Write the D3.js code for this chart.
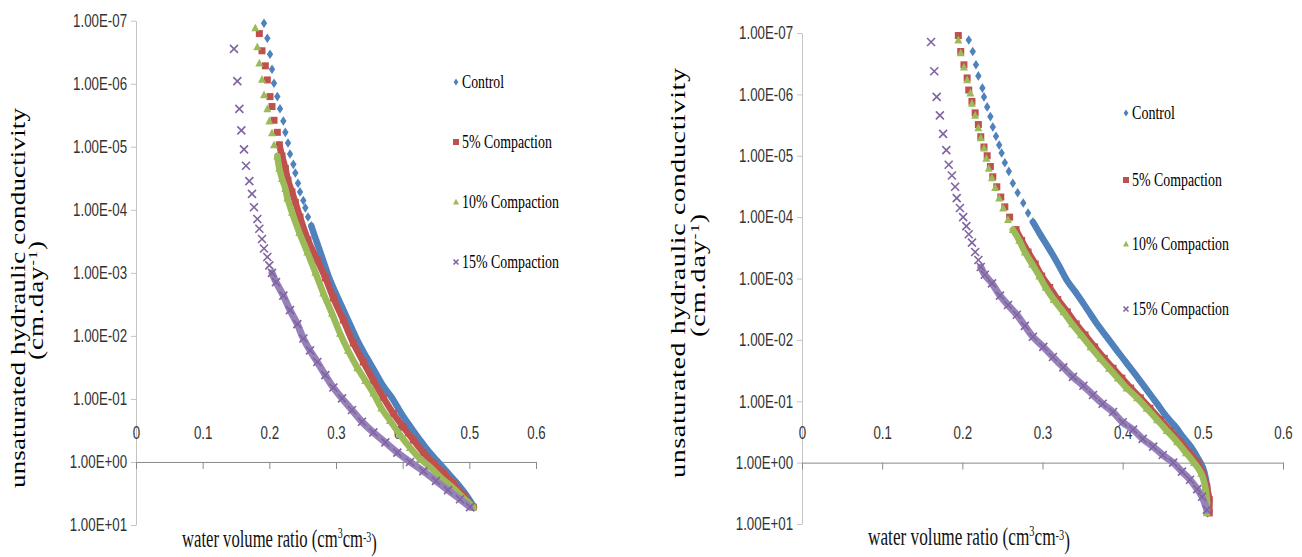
<!DOCTYPE html>
<html>
<head>
<meta charset="utf-8">
<script src="https://cdn.jsdelivr.net/npm/d3@7"></script>
<style>
  body { margin: 0; background: #fff; }
  svg { display: block; }
</style>
</head>
<body>
<svg id="chart" width="1302" height="557"></svg>
<script>
// ---- data (theta in cm3/cm3, K in cm/day) ----
const seriesNames = ["Control", "5% Compaction", "10% Compaction", "15% Compaction"];
const xTicks = [0, 0.1, 0.2, 0.3, 0.4, 0.5, 0.6];
const xTickLabels = ["0", "0.1", "0.2", "0.3", "0.4", "0.5", "0.6"];
const yTicks = [1e-7, 1e-6, 1e-5, 1e-4, 1e-3, 1e-2, 1e-1, 1e0, 1e1];
const yTickLabels = ["1.00E-07", "1.00E-06", "1.00E-05", "1.00E-04", "1.00E-03", "1.00E-02", "1.00E-01", "1.00E+00", "1.00E+01"];

// left chart: separate markers at the top, then the part where markers run together
const leftControlDots = [[0.192,1.1e-7],[0.197,1.9e-7],[0.201,3.4e-7],[0.204,5.9e-7],[0.207,9.8e-7],[0.212,1.6e-6],[0.216,2.5e-6],[0.221,3.9e-6],[0.224,5.9e-6],[0.228,8.7e-6],[0.231,1.3e-5],[0.236,1.9e-5],[0.239,2.6e-5],[0.243,3.8e-5],[0.246,5.2e-5],[0.251,7.1e-5],[0.254,9.3e-5],[0.258,1.3e-4],[0.263,1.8e-4]];
const leftControlTrace = [[0.270,3.0e-4],[0.279,5.6e-4],[0.291,1.3e-3],[0.308,3.3e-3],[0.323,7.3e-3],[0.334,1.3e-2],[0.346,2.2e-2],[0.359,3.8e-2],[0.372,6.5e-2],[0.385,0.10],[0.398,0.17],[0.412,0.28],[0.426,0.45],[0.440,0.70],[0.455,1.05],[0.468,1.5],[0.482,2.2],[0.495,3.3],[0.507,5.2]];
const left5Dots = [[0.185,1.6e-7],[0.189,3.0e-7],[0.194,5.2e-7],[0.197,8.7e-7],[0.201,1.6e-6],[0.204,2.3e-6],[0.207,3.8e-6],[0.212,5.9e-6],[0.215,9.3e-6]];
const left5Trace = [[0.219,1.4e-5],[0.224,2.2e-5],[0.228,3.4e-5],[0.234,5.2e-5],[0.239,7.6e-5],[0.246,1.3e-4],[0.258,3.0e-4],[0.272,6.3e-4],[0.284,1.2e-3],[0.296,2.5e-3],[0.311,5.6e-3],[0.326,1.3e-2],[0.341,2.6e-2],[0.356,5.1e-2],[0.371,9.5e-2],[0.386,0.17],[0.401,0.28],[0.416,0.45],[0.431,0.71],[0.446,1.05],[0.461,1.5],[0.476,2.2],[0.491,3.4],[0.506,5.2]];
const left10Dots = [[0.179,1.3e-7],[0.182,2.6e-7],[0.185,4.7e-7],[0.189,8.5e-7],[0.192,1.5e-6],[0.197,2.5e-6],[0.200,3.9e-6],[0.204,6.0e-6],[0.207,9.3e-6],[0.212,1.4e-5]];
const left10Trace = [[0.215,2.2e-5],[0.219,3.2e-5],[0.224,4.6e-5],[0.227,6.5e-5],[0.234,1.1e-4],[0.245,2.3e-4],[0.257,4.7e-4],[0.269,9.8e-4],[0.281,2.1e-3],[0.294,4.4e-3],[0.306,9.1e-3],[0.318,1.7e-2],[0.332,3.2e-2],[0.344,5.1e-2],[0.356,8.1e-2],[0.368,0.14],[0.381,0.22],[0.396,0.37],[0.411,0.59],[0.426,0.89],[0.441,1.2],[0.458,1.8],[0.476,2.6],[0.491,3.7],[0.506,5.2]];
const left15Dots = [[0.147,2.8e-7],[0.152,9.1e-7],[0.155,2.5e-6],[0.158,5.5e-6],[0.162,1.1e-5],[0.165,2.0e-5],[0.170,3.5e-5],[0.174,5.6e-5],[0.177,9.1e-5],[0.182,1.4e-4],[0.185,2.0e-4],[0.189,2.9e-4],[0.192,4.1e-4],[0.197,5.6e-4],[0.200,7.6e-4],[0.204,1.0e-3]];
const left15Trace = [[0.210,1.4e-3],[0.221,2.3e-3],[0.231,3.9e-3],[0.242,6.5e-3],[0.251,1.1e-2],[0.261,1.7e-2],[0.272,2.6e-2],[0.284,4.2e-2],[0.296,6.6e-2],[0.309,9.8e-2],[0.324,0.15],[0.339,0.23],[0.356,0.34],[0.374,0.49],[0.392,0.71],[0.411,1.0],[0.431,1.4],[0.450,2.0],[0.468,2.8],[0.486,3.9],[0.501,5.2]];

// right chart
const rightControlDots = [[0.208,1.3e-7],[0.213,2.0e-7],[0.217,3.3e-7],[0.220,5.0e-7],[0.225,7.9e-7],[0.227,1.1e-6],[0.231,1.6e-6],[0.235,2.3e-6],[0.238,3.4e-6],[0.242,4.8e-6],[0.246,6.7e-6],[0.249,9.0e-6],[0.253,1.3e-5],[0.258,1.8e-5],[0.263,2.8e-5],[0.269,4.0e-5],[0.276,5.9e-5],[0.282,8.6e-5],[0.288,1.2e-4]];
const rightControlTrace = [[0.297,1.9e-4],[0.309,3.4e-4],[0.320,6.0e-4],[0.331,1.1e-3],[0.343,1.8e-3],[0.356,3.2e-3],[0.368,5.5e-3],[0.380,8.9e-3],[0.393,1.5e-2],[0.405,2.4e-2],[0.418,4.0e-2],[0.430,6.5e-2],[0.443,0.11],[0.455,0.18],[0.467,0.27],[0.475,0.38],[0.485,0.55],[0.493,0.81],[0.500,1.2],[0.504,1.9],[0.506,3.3],[0.506,6.6]];
const right5Dots = [[0.195,1.1e-7],[0.198,2.0e-7],[0.202,3.3e-7],[0.206,5.4e-7],[0.208,8.5e-7],[0.212,1.3e-6],[0.216,2.0e-6],[0.220,3.1e-6],[0.223,4.9e-6],[0.227,7.2e-6],[0.231,1.0e-5],[0.235,1.5e-5],[0.238,2.2e-5],[0.243,3.2e-5],[0.248,4.7e-5],[0.253,6.8e-5],[0.259,1.0e-4],[0.267,1.6e-4]];
const right5Trace = [[0.274,2.4e-4],[0.282,3.7e-4],[0.291,5.8e-4],[0.299,9.1e-4],[0.309,1.4e-3],[0.319,2.2e-3],[0.331,3.5e-3],[0.342,5.5e-3],[0.353,8.3e-3],[0.365,1.3e-2],[0.377,2.0e-2],[0.388,2.9e-2],[0.399,4.2e-2],[0.410,6.1e-2],[0.422,8.8e-2],[0.434,0.13],[0.447,0.20],[0.459,0.30],[0.472,0.46],[0.483,0.69],[0.493,1.0],[0.500,1.5],[0.505,2.5],[0.508,4.0],[0.508,6.6]];
const right10Dots = [[0.195,1.3e-7],[0.198,2.1e-7],[0.202,3.6e-7],[0.206,5.8e-7],[0.210,9.5e-7],[0.212,1.4e-6],[0.216,2.2e-6],[0.220,3.5e-6],[0.223,5.1e-6],[0.227,7.5e-6],[0.230,1.1e-5],[0.233,1.6e-5],[0.237,2.3e-5],[0.241,3.3e-5],[0.246,4.9e-5],[0.251,7.1e-5],[0.257,1.1e-4],[0.263,1.6e-4]];
const right10Trace = [[0.271,2.4e-4],[0.278,3.7e-4],[0.287,5.8e-4],[0.296,9.1e-4],[0.304,1.4e-3],[0.314,2.2e-3],[0.326,3.5e-3],[0.337,5.5e-3],[0.348,8.3e-3],[0.360,1.3e-2],[0.372,2.0e-2],[0.383,2.9e-2],[0.394,4.2e-2],[0.405,6.1e-2],[0.418,8.8e-2],[0.430,0.13],[0.443,0.20],[0.455,0.30],[0.468,0.46],[0.479,0.69],[0.489,1.0],[0.498,1.5],[0.503,2.5],[0.505,4.0],[0.505,6.6]];
const right15Dots = [[0.161,1.4e-7],[0.165,4.2e-7],[0.168,1.1e-6],[0.172,2.2e-6],[0.176,4.4e-6],[0.180,8.1e-6],[0.183,1.4e-5],[0.187,2.1e-5],[0.191,3.2e-5],[0.193,4.9e-5],[0.197,7.1e-5],[0.201,1.0e-4],[0.205,1.4e-4],[0.208,1.9e-4],[0.212,2.6e-4],[0.216,3.7e-4],[0.220,5.0e-4],[0.223,6.5e-4]];
const right15Trace = [[0.228,8.7e-4],[0.237,1.2e-3],[0.247,1.9e-3],[0.257,2.7e-3],[0.268,3.9e-3],[0.278,5.9e-3],[0.288,8.9e-3],[0.301,1.3e-2],[0.313,1.9e-2],[0.326,2.8e-2],[0.338,4.0e-2],[0.351,5.6e-2],[0.363,7.9e-2],[0.375,0.11],[0.388,0.15],[0.400,0.22],[0.413,0.29],[0.425,0.41],[0.438,0.55],[0.450,0.75],[0.463,1.0],[0.474,1.4],[0.484,1.9],[0.493,2.7],[0.499,3.6],[0.505,5.9]];

// ---- layout ----
const colors = ["#4F81BD", "#C0504D", "#9BBB59", "#8064A2"];
const bandColors = ["#4F81BD", "#C0504D", "#9BBB59", "#9682b9"];
const shapes = ["diamond", "square", "triangle", "cross"];
const markSize = [8, 7, 8, 8];
const legendSize = [6, 6, 6, 5];
const tickFont = "'Liberation Sans', Arial, sans-serif";
const serif = "'Liberation Serif', 'Times New Roman', serif";
const squeeze = 0.74;

const panels = [
  {
    left: 136, right: 536, top: 20.7, bottom: 525,
    series: [[leftControlDots, leftControlTrace], [left5Dots, left5Trace], [left10Dots, left10Trace], [left15Dots, left15Trace]],
    legendX: 456, legendY: [82, 142, 202, 262], legendW: [42, 90, 97, 97],
    title1: { x: 25, y: 298, len: 380, fs: 27 },
    title2: { x: 43, y: 300, len: 113, fs: 27 },
    xTitle: { x: 182, y: 547, w: 195 }
  },
  {
    left: 802, right: 1283, top: 33, bottom: 524,
    series: [[rightControlDots, rightControlTrace], [right5Dots, right5Trace], [right10Dots, right10Trace], [right15Dots, right15Trace]],
    legendX: 1126, legendY: [113, 180, 244, 309], legendW: [43, 90, 97, 97],
    title1: { x: 685, y: 273, len: 410, fs: 28 },
    title2: { x: 705, y: 275, len: 124, fs: 28 },
    xTitle: { x: 868, y: 545, w: 202 }
  }
];

const svg = d3.select("#chart");

function shapePath(kind, s) {
  const h = s / 2;
  if (kind === "diamond") return `M0,${-h * 1.2}L${h * 0.8},0L0,${h * 1.2}L${-h * 0.8},0Z`;
  if (kind === "square") return `M${-h},${-h}H${h}V${h}H${-h}Z`;
  if (kind === "triangle") return `M0,${-h * 1.1}L${h},${h * 0.85}L${-h},${h * 0.85}Z`;
  return `M${-h},${-h}L${h},${h}M${h},${-h}L${-h},${h}`;
}

function styleMark(sel, i) {
  if (shapes[i] === "cross") sel.attr("fill", "none").attr("stroke", colors[i]).attr("stroke-width", 1.6);
  else sel.attr("fill", colors[i]).attr("stroke", "none");
}

// squeeze a text horizontally so it takes the given width
function fitWidth(sel, x, y, w) {
  const n = sel.node().getComputedTextLength();
  sel.attr("transform", `translate(${x},${y}) scale(${w / n},1)`);
}

function drawPanel(p) {
  const x = d3.scaleLinear().domain([0, 0.6]).range([p.left, p.right]);
  const y = d3.scaleLog().domain([1e-7, 1e1]).range([p.top, p.bottom]);
  const g = svg.append("g");

  // y axis (values grow downwards)
  const yg = g.append("g")
    .attr("transform", `translate(${p.left},0)`)
    .call(d3.axisLeft(y).tickValues(yTicks).tickFormat((d, i) => yTickLabels[i]).tickSize(5).tickSizeOuter(0));
  yg.select(".domain").attr("stroke", "#c4c4c4");
  yg.selectAll(".tick line").attr("stroke", "#c4c4c4");
  yg.selectAll(".tick text")
    .attr("x", -12).attr("fill", "#333")
    .attr("font-family", tickFont).attr("font-size", 18)
    .attr("transform", `scale(${squeeze},1)`);

  // x axis crosses at K = 1, labels sit above it
  const xg = g.append("g")
    .attr("transform", `translate(0,${y(1)})`)
    .call(d3.axisBottom(x).tickValues(xTicks).tickFormat((d, i) => xTickLabels[i]).tickSize(7).tickSizeOuter(0));
  xg.select(".domain").attr("stroke", "#8a8a8a");
  xg.selectAll(".tick line").attr("stroke", "#8a8a8a");
  xg.selectAll(".tick text")
    .attr("y", -29).attr("dy", "0.32em").attr("fill", "#333")
    .attr("font-family", tickFont).attr("font-size", 18)
    .attr("transform", `scale(${squeeze},1)`);

  // series: markers, plus a thick band where the markers run together
  const line = d3.line().x(d => x(d[0])).y(d => y(d[1])).curve(d3.curveCatmullRom);
  p.series.forEach(([dots, trace], i) => {
    const band = [dots[dots.length - 1]].concat(trace);
    g.append("path")
      .attr("d", line(band))
      .attr("fill", "none")
      .attr("stroke", bandColors[i])
      .attr("stroke-width", i === 3 ? 7 : 6.5)
      .attr("stroke-linecap", "round");
    g.append("g").selectAll("path")
      .data(dots.concat(trace))
      .join("path")
      .attr("transform", d => `translate(${x(d[0])},${y(d[1])})`)
      .attr("d", shapePath(shapes[i], markSize[i]))
      .call(styleMark, i);
  });

  // legend
  seriesNames.forEach((name, i) => {
    const ly = p.legendY[i];
    g.append("path")
      .attr("transform", `translate(${p.legendX},${ly})`)
      .attr("d", shapePath(shapes[i], legendSize[i]))
      .call(styleMark, i);
    const t = g.append("text")
      .attr("dominant-baseline", "central")
      .attr("font-family", serif).attr("font-size", 19).attr("fill", "#000")
      .text(name);
    fitWidth(t, p.legendX + 6, ly, p.legendW[i]);
  });

  // y title, two lines, rotated
  g.append("text")
    .attr("transform", `translate(${p.title1.x},${p.title1.y}) scale(0.75,1) rotate(-90)`)
    .attr("text-anchor", "middle")
    .attr("font-family", serif).attr("font-size", p.title1.fs)
    .attr("textLength", p.title1.len).attr("lengthAdjust", "spacing")
    .text("unsaturated hydraulic conductivity");
  const t2 = g.append("text")
    .attr("transform", `translate(${p.title2.x},${p.title2.y}) scale(0.75,1) rotate(-90)`)
    .attr("text-anchor", "middle")
    .attr("font-family", serif).attr("font-size", p.title2.fs)
    .attr("letter-spacing", 1);
  t2.append("tspan").text("(cm.day");
  t2.append("tspan").attr("font-size", "0.6em").attr("dy", "-0.5em").text("-1");
  t2.append("tspan").attr("dy", "0.3em").text(")");

  // x title
  const xt = g.append("text")
    .attr("font-family", serif).attr("font-size", 25).attr("fill", "#111");
  xt.append("tspan").text("water volume ratio (cm");
  xt.append("tspan").attr("font-size", "0.6em").attr("dy", "-0.6em").text("3");
  xt.append("tspan").attr("dy", "0.36em").text("cm");
  xt.append("tspan").attr("font-size", "0.6em").attr("dy", "-0.36em").text("-3");
  xt.append("tspan").attr("dy", "0.36em").text(")");
  fitWidth(xt, p.xTitle.x, p.xTitle.y, p.xTitle.w);
}

panels.forEach(drawPanel);
</script>
</body>
</html>
